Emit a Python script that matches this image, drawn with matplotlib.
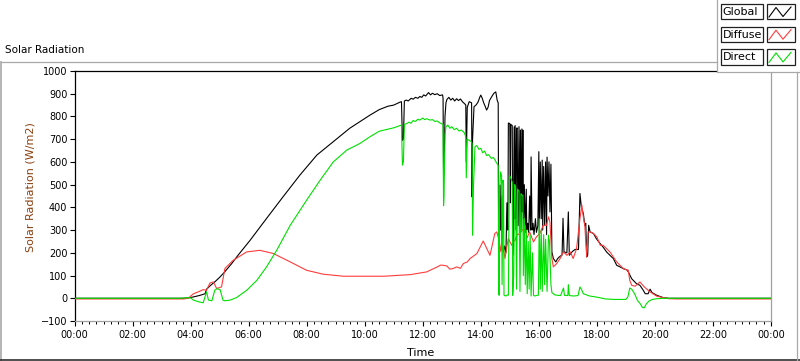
import matplotlib
matplotlib.use("Agg")
import matplotlib.pyplot as plt
from matplotlib.patches import Rectangle
from matplotlib.lines import Line2D
from matplotlib.ticker import MultipleLocator, FuncFormatter

# (minute of day, W/m2)
global_pts = [
    (0, 0), (225, 0), (237, 2), (246, 6), (258, 12), (270, 20), (273, 40), (282, 58), (290, 72), (300, 92),
    (308, 110), (324, 150), (338, 189), (363, 255), (397, 351), (431, 446), (466, 542), (501, 630), (535, 689),
    (569, 748), (611, 806), (630, 830), (648, 845), (660, 850), (672, 862), (676, 865), (678, 695), (680, 700),
    (682, 868), (686, 872), (690, 868), (696, 880), (700, 876), (705, 884), (710, 880), (714, 888), (718, 884),
    (722, 895), (726, 890), (730, 900), (732, 905), (736, 895), (740, 902), (745, 896), (750, 900), (755, 892),
    (761, 895), (762, 880), (763, 540), (764, 560), (766, 800), (768, 860), (770, 875), (774, 884), (778, 872),
    (782, 880), (786, 868), (790, 878), (794, 870), (798, 877), (802, 865), (807, 855), (809, 850), (810, 600),
    (812, 840), (816, 865), (821, 860), (822, 446), (823, 700), (826, 843), (830, 850), (834, 862), (838, 885),
    (840, 894), (843, 880), (846, 860), (849, 845), (852, 828), (855, 840), (858, 870), (862, 885), (867, 902),
    (871, 908), (874, 870), (876, 860), (877, 233), (878, 250), (880, 498), (881, 300), (883, 450),
    (884, 210), (887, 204), (889, 230), (892, 200), (894, 420), (896, 300), (897, 771), (900, 769), (901, 420),
    (902, 765), (905, 760), (906, 189), (907, 250), (909, 754), (910, 350), (911, 760), (913, 300), (914, 745),
    (915, 750), (917, 320), (919, 755), (920, 280), (922, 740), (923, 300), (925, 745), (926, 380), (927, 740),
    (928, 308), (930, 500), (932, 290), (934, 480), (935, 300), (937, 330), (939, 290), (941, 450), (943, 300),
    (944, 622), (946, 300), (948, 330), (950, 280), (953, 350), (955, 290), (958, 320), (960, 645), (961, 278),
    (963, 600), (965, 350), (967, 608), (968, 300), (970, 580), (972, 320), (974, 600), (976, 280), (977, 621),
    (979, 450), (981, 600), (983, 380), (985, 590), (987, 204), (990, 175), (995, 160), (999, 175), (1004, 185),
    (1008, 190), (1010, 352), (1012, 204), (1018, 200), (1021, 380), (1023, 189), (1029, 205), (1035, 215),
    (1042, 215), (1045, 461), (1048, 400), (1052, 373), (1055, 321), (1057, 330), (1059, 182), (1061, 190),
    (1063, 321), (1066, 292), (1073, 285), (1079, 262), (1087, 240), (1093, 225), (1100, 204), (1107, 189),
    (1114, 175), (1121, 145), (1128, 138), (1135, 130), (1142, 125), (1145, 116), (1152, 86), (1162, 64),
    (1169, 57), (1176, 35), (1180, 20), (1186, 20), (1190, 40), (1194, 25), (1204, 13), (1217, 3), (1228, 0),
    (1440, 0),
]

diffuse_pts = [
    (0, -3), (225, -3), (235, 0), (246, 20), (258, 30), (266, 38), (273, 35), (280, 67), (287, 72), (294, 43),
    (304, 50), (311, 131), (328, 167), (356, 204), (383, 211), (411, 197), (446, 160), (480, 123), (514, 106),
    (556, 97), (611, 97), (640, 97), (694, 104), (728, 116), (750, 138), (757, 146), (763, 145), (770, 142),
    (776, 128), (783, 131), (790, 138), (798, 132), (804, 153), (812, 160), (818, 175), (832, 197), (845, 252),
    (859, 189), (869, 285), (873, 292), (877, 263), (880, 204), (883, 248), (887, 218), (890, 175), (893, 218),
    (897, 263), (904, 233), (907, 248), (911, 255), (914, 277), (921, 285), (928, 306), (932, 321), (935, 263),
    (941, 292), (949, 248), (955, 270), (962, 285), (969, 321), (976, 321), (980, 358), (983, 336), (987, 175),
    (990, 138), (997, 153), (1004, 175), (1011, 204), (1018, 189), (1025, 204), (1031, 175), (1038, 218),
    (1045, 350), (1049, 410), (1052, 358), (1055, 321), (1059, 182), (1062, 292), (1066, 292), (1073, 285),
    (1080, 270), (1087, 233), (1093, 233), (1107, 204), (1121, 160), (1135, 130), (1145, 123), (1148, 79),
    (1152, 57), (1159, 53), (1169, 72), (1178, 50), (1190, 28), (1204, 9), (1217, 3), (1229, -2), (1245, -3),
    (1440, -3),
]

direct_pts = [
    (0, 0), (218, 0), (239, 3), (246, -8), (256, -15), (266, -20), (272, 20), (273, 28), (277, -8), (284, -11),
    (290, 35), (294, 42), (301, 38), (307, -8), (311, -11), (322, -8), (335, 3), (356, 35), (377, 79), (397, 138),
    (418, 211), (446, 321), (480, 432), (508, 520), (535, 600), (563, 652), (590, 681), (611, 711), (630, 735),
    (660, 750), (676, 762), (678, 586), (680, 600), (682, 765), (686, 768), (692, 775), (696, 770), (700, 782),
    (705, 778), (710, 788), (714, 784), (720, 793), (724, 786), (728, 790), (735, 784), (740, 786), (745, 778),
    (750, 780), (755, 772), (762, 765), (763, 407), (764, 450), (766, 720), (768, 755), (772, 762), (776, 748),
    (780, 755), (785, 742), (790, 748), (795, 736), (800, 740), (806, 728), (809, 711), (810, 530),
    (812, 700), (820, 690), (822, 681), (823, 277), (825, 500), (828, 667), (832, 672), (836, 655), (840, 660),
    (844, 640), (848, 648), (852, 628), (856, 632), (862, 615), (866, 620), (872, 598), (876, 585), (877, 25),
    (878, 13), (879, 480), (881, 556), (883, 540), (884, 60), (886, 520),
    (887, 500), (888, 13), (892, 10), (895, 15), (897, 13), (899, 540), (902, 530), (905, 510), (906, 13),
    (908, 100), (910, 500), (912, 490), (914, 40), (916, 480), (919, 470), (921, 30), (923, 460), (927, 450),
    (928, 100), (930, 350), (932, 60), (934, 300), (936, 20), (938, 250), (940, 40), (942, 280), (944, 10),
    (947, 200), (949, 13), (952, 10), (956, 13), (959, 13), (961, 350), (963, 40), (965, 300), (967, 30),
    (970, 280), (972, 60), (974, 260), (977, 30), (980, 278), (982, 250), (985, 60), (987, 25), (993, 15),
    (999, 13), (1005, 12), (1011, 45), (1013, 13), (1020, 12), (1021, 60), (1023, 12), (1032, 10), (1041, 12),
    (1045, 50), (1049, 35), (1052, 20), (1065, 10), (1080, 5), (1098, -3), (1116, -5), (1140, -5), (1144, 5),
    (1148, 45), (1152, 40), (1158, 20), (1164, -10), (1170, -25), (1174, -40), (1178, -42), (1182, -25),
    (1188, -12), (1195, -5), (1204, -2), (1218, 0), (1440, 0),
]

series_names = ["Global", "Diffuse", "Direct"]
series_colors = ["#000000", "#ff3c3c", "#00e000"]

W, H = 800, 361
fig = plt.figure(figsize=(W / 100, H / 100), dpi=100)
plt.rcParams['font.family'] = ['DejaVu Sans']

ax = fig.add_axes([74.5 / W, 1 - 321 / H, (771 - 74.5) / W, (321 - 71) / H])

for pts, col, z in zip([global_pts, diffuse_pts, direct_pts], series_colors, [3, 4, 5]):
    t = [p[0] / 60 for p in pts]
    v = [p[1] for p in pts]
    ax.plot(t, v, color=col, lw=0.8, zorder=z)

ax.set_xlim(0, 24)
ax.set_ylim(-100, 1000)
ax.xaxis.set_major_locator(MultipleLocator(2))
ax.xaxis.set_minor_locator(MultipleLocator(0.25))
ax.yaxis.set_major_locator(MultipleLocator(100))
ax.xaxis.set_major_formatter(FuncFormatter(lambda h, p: f"{int(round(h)) % 24:02d}:00"))
ax.tick_params(axis='both', which='major', direction='out', length=3.6, width=0.8, labelsize=7)
ax.tick_params(axis='x', which='minor', direction='out', length=2.2, width=0.7)
ax.tick_params(axis='x', pad=3)
ax.tick_params(axis='y', pad=1.5)
ax.spines['left'].set_color('black')
ax.spines['top'].set_color('black')
ax.spines['bottom'].set_color('#a0a0a0')
ax.spines['right'].set_color('#a0a0a0')
for s in ax.spines.values():
    s.set_linewidth(0.9)

fig.text(30.5 / W, 1 - 187.5 / H, "Solar Radiation (W/m2)", rotation=90, ha='center', va='center',
         fontsize=8, color='#8b4010')
fig.text(421 / W, 1 - 353 / H, "Time", ha='center', va='center', fontsize=8)
fig.text(5 / W, 1 - 50 / H, "Solar Radiation", ha='left', va='center', fontsize=7.5)

# outer frame of the graph panel
frame = '#a8a8a8'
fig.add_artist(Line2D([0.5 / W, 717 / W], [1 - 62 / H, 1 - 62 / H], color=frame, lw=0.9))
fig.add_artist(Line2D([0.7 / W, 0.7 / W], [1 - 62 / H, 0], color=frame, lw=1.2))
fig.add_artist(Line2D([0, 1], [0.8 / H, 0.8 / H], color='#303030', lw=1.2))
fig.add_artist(Line2D([797 / W, 797 / W], [1 - 72 / H, 0], color=frame, lw=0.9))

# legend panel, drawn in pixel coordinates
lax = fig.add_axes([717 / W, 1 - 72 / H, 83 / W, 72 / H])
lax.set_xlim(717, 800)
lax.set_ylim(72, 0)
lax.axis('off')
lax.add_patch(Rectangle((717, 0), 83, 72, facecolor='white', edgecolor='none', zorder=0))
lax.plot([717.5, 717.5, 800], [0, 71.5, 71.5], color=frame, lw=0.9, clip_on=False)
for i, (name, col) in enumerate(zip(series_names, series_colors)):
    y0 = 4 + i * 22.7
    lax.add_patch(Rectangle((720.7, y0), 42.6, 15.3, facecolor='white', edgecolor='#202020', lw=0.9))
    lax.add_patch(Rectangle((766.7, y0), 28.3, 15.3, facecolor='white', edgecolor='#202020', lw=0.9))
    lax.text(722.5, y0 + 7.9, name, ha='left', va='center', fontsize=8)
    lax.plot([769, 776, 783, 791], [y0 + 13, y0 + 3.5, y0 + 12.5, y0 + 3], color=col, lw=0.8)

fig.savefig("out.png", dpi=100)
